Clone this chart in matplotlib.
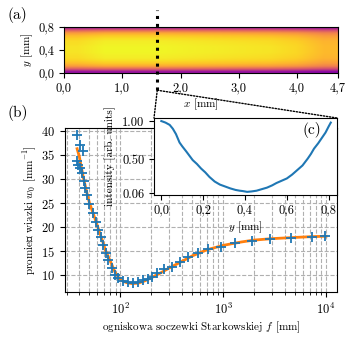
import numpy as np
import matplotlib
matplotlib.use("Agg")
import matplotlib.pyplot as plt
from matplotlib.patches import ConnectionPatch

plt.rcParams["font.family"] = ["cmr10", "DejaVu Serif"]
plt.rcParams["mathtext.fontset"] = "cm"
plt.rcParams["axes.unicode_minus"] = False
plt.rcParams["axes.formatter.use_mathtext"] = True
plt.rcParams["font.size"] = 8
plt.rcParams["xtick.labelsize"] = 9
plt.rcParams["ytick.labelsize"] = 9

# --- panel (a): beam image, profile across y (rows) and gain along x (cols)
heat_profile = [0.33, 0.6, 0.8, 0.89, 0.94, 0.97, 0.98, 0.99, 0.99,
                0.99, 0.98, 0.97, 0.94, 0.89, 0.8, 0.6, 0.33]   # y = 0.0 ... 0.8
heat_x_gain = [0.96, 1.0, 1.0, 1.0, 0.99, 0.98, 0.97, 0.96, 0.93, 0.86]
img_xlim = (0.0, 4.7)
img_ylim = (0.0, 0.8)
cut_x = 1.6
a_xticks = [0.0, 1.0, 2.0, 3.0, 4.0, 4.7]
a_xticklabels = ["0,0", "1,0", "2,0", "3,0", "4,0", "4,7"]
a_yticks = [0.0, 0.4, 0.8]
a_yticklabels = ["0,0", "0,4", "0,8"]

# --- panel (b): measured beam radius vs focal length, with fit
f_meas = [38.3, 40.9, 43, 38, 39.2, 41, 42, 44, 45.5, 47, 50, 54.7, 58.5,
          61.2, 65, 68, 73, 76.5, 83.6, 89, 95.6, 107, 119.5, 134, 149, 167,
          187, 204, 228, 267, 320, 383, 460, 570, 715, 955, 1300, 1910,
          2850, 4570, 7300, 9800]
w_meas = [39.2, 37.1, 35.8, 33.8, 32.9, 32.3, 31.2, 29.6, 28.1, 26.7, 24.8,
          22.9, 21.0, 19.4, 17.9, 16.25, 14.6, 13.1, 11.5, 10.0, 9.4, 8.75,
          8.5, 8.4, 8.5, 8.9, 9.3, 9.6, 10.4, 11.2, 11.7, 12.7, 13.75, 14.6,
          15.4, 15.8, 16.7, 17.1, 17.5, 17.7, 17.9, 18.1]
f_fit = [38, 40, 42, 44, 47, 50, 55, 60, 66, 72, 80, 89, 97, 105, 115, 130,
         150, 170, 200, 250, 300, 400, 500, 700, 1000, 1500, 2000, 3000,
         5000, 7000, 10000]
w_fit = [36.3, 34.6, 32.2, 30.0, 27.4, 25.1, 22.6, 20.2, 17.6, 15.1, 12.9,
         10.6, 9.4, 8.8, 8.45, 8.25, 8.35, 8.75, 9.45, 10.55, 11.5, 12.9,
         14.0, 15.3, 16.2, 16.9, 17.3, 17.6, 17.85, 18.0, 18.1]
b_yticks = [10, 15, 20, 25, 30, 35, 40]

# --- panel (c): intensity profile along the cut
prof_y = [0.0, 0.02, 0.04, 0.055, 0.07, 0.087, 0.10, 0.12, 0.15, 0.17, 0.19,
          0.21, 0.23, 0.255, 0.28, 0.31, 0.33, 0.355, 0.375, 0.39, 0.41,
          0.43, 0.455, 0.48, 0.505, 0.53, 0.55, 0.575, 0.60, 0.625, 0.65,
          0.675, 0.70, 0.715, 0.73, 0.75, 0.77, 0.785, 0.80, 0.81]
prof_i = [1.00, 0.98, 0.95, 0.90, 0.83, 0.72, 0.67, 0.60, 0.49, 0.44, 0.38,
          0.33, 0.27, 0.21, 0.17, 0.14, 0.12, 0.10, 0.09, 0.085, 0.075,
          0.08, 0.09, 0.11, 0.13, 0.16, 0.19, 0.22, 0.25, 0.30, 0.36, 0.42,
          0.51, 0.57, 0.64, 0.71, 0.79, 0.85, 0.93, 0.98]
c_xticks = [0.0, 0.2, 0.4, 0.6, 0.8]
c_xticklabels = ["0,0", "0,2", "0,4", "0,6", "0,8"]
c_yticks = [0.06, 0.5, 1.0]
c_yticklabels = ["0.06", "0.50", "1.00"]

fig = plt.figure(figsize=(3.52, 3.39), dpi=100)

# ----- (a)
ax_a = fig.add_axes([0.1818, 0.7847, 0.7784, 0.1357])
image = np.outer(heat_profile, heat_x_gain)
ax_a.imshow(image, origin="lower", aspect="auto", cmap="plasma",
            extent=[*img_xlim, *img_ylim], interpolation="bilinear",
            vmin=0.0, vmax=1.0)
ax_a.set_xlim(img_xlim)
ax_a.set_ylim(img_ylim)
ax_a.set_xticks(a_xticks)
ax_a.set_xticklabels(a_xticklabels)
ax_a.set_yticks(a_yticks)
ax_a.set_yticklabels(a_yticklabels)
ax_a.set_xlabel(r"$x$ [mm]", labelpad=1)
ax_a.set_ylabel(r"$y$ [mm]", labelpad=2)
ax_a.plot([cut_x, cut_x], [-0.3, 1.1], color="black", linestyle=(0, (1, 1.6)),
          linewidth=2.2, clip_on=False, zorder=5)
fig.text(0.05, 0.955, "(a)", fontsize=11, ha="center", va="center")

# ----- (b)
ax_b = fig.add_axes([0.1847, 0.1386, 0.7727, 0.4838])
ax_b.set_xscale("log")
ax_b.grid(True, which="both", axis="x", color="#b0b0b0", linestyle="--", linewidth=0.8)
ax_b.grid(True, which="major", axis="y", color="#b0b0b0", linestyle="--", linewidth=0.8)
ax_b.set_axisbelow(True)
ax_b.plot(f_fit, w_fit, color="#ff7f0e", linewidth=2.0, zorder=2)
ax_b.plot(f_meas, w_meas, linestyle="none", marker="+", markersize=7,
          markeredgewidth=1.3, color="#1f77b4", zorder=3)
ax_b.set_xlim(29, 12800)
ax_b.set_ylim(6.5, 40.6)
ax_b.set_yticks(b_yticks)
ax_b.set_xlabel(r"ogniskowa soczewki Starkowskiej $f$ [mm]", labelpad=2)
ax_b.set_ylabel(r"promień wiazki $w_0$ [mm$^{-1}$]", labelpad=2)
fig.text(0.05, 0.667, "(b)", fontsize=11, ha="center", va="center")

# ----- (c) inset
ax_c = fig.add_axes([0.4375, 0.4248, 0.52, 0.2271])
ax_c.plot(prof_y, prof_i, color="#1f77b4", linewidth=1.5)
ax_c.set_xlim(-0.035, 0.84)
ax_c.set_ylim(0.034, 1.04)
ax_c.set_xticks(c_xticks)
ax_c.set_xticklabels(c_xticklabels)
ax_c.set_yticks(c_yticks)
ax_c.set_yticklabels(c_yticklabels)
ax_c.set_xlabel(r"$y$ [mm]", labelpad=2)
ax_c.set_ylabel("intensity [arb. units]", labelpad=4)
ax_c.text(0.86, 0.84, "(c)", transform=ax_c.transAxes, fontsize=11,
          ha="center", va="center")

# zoom lines from the cut to the inset
for corner in [(0, 1), (1, 1)]:
    con = ConnectionPatch(xyA=(cut_x, -0.3), coordsA=ax_a.transData,
                          xyB=corner, coordsB=ax_c.transAxes,
                          color="black", linestyle=(0, (1, 1.2)), linewidth=1.0)
    fig.add_artist(con)

fig.savefig("out.png", dpi=100)
